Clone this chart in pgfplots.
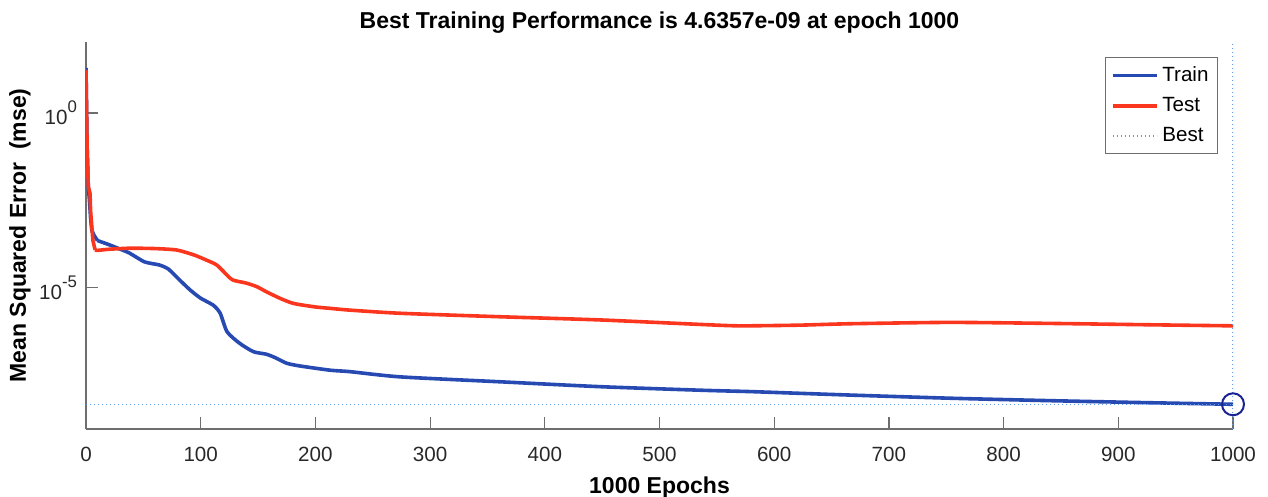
\documentclass[border=0pt]{standalone}
\usepackage{fontspec}
\setmainfont{Liberation Sans}
\usepackage{pgfplots}
\pgfplotsset{compat=1.18}
\definecolor{trainblue}{RGB}{38,74,178}
\definecolor{testred}{RGB}{250,55,30}
\definecolor{bestblue}{RGB}{95,155,235}
\definecolor{circblue}{RGB}{25,35,145}
\definecolor{axgray}{RGB}{110,110,110}
\definecolor{ticktext}{RGB}{40,40,40}
\newcommand{\pw}[1]{10\raisebox{6bp}{\fontsize{8.4bp}{9bp}\selectfont #1}}
\begin{document}
\begin{tikzpicture}
\begin{axis}[name=ax, scale only axis, width=573.5bp, height=193.5bp,
 xmin=0, xmax=1000, ymode=log, ymin=9.1e-10, ymax=107,
 axis lines*=left, axis line style={axgray, line width=0.6bp},
 tick align=inside, major tick length=6bp, tick style={axgray, line width=0.6bp},
 xtick={0,100,200,300,400,500,600,700,800,900,1000},
 xticklabels={0,100,200,300,400,500,600,700,800,900,1000},
 ytick={1e-5,1}, yticklabels={\pw{-5},\pw{0}},
 yminorticks=false, xminorticks=false,
 tick label style={font=\fontsize{10.3bp}{12bp}\selectfont, text=ticktext},
 xticklabel style={yshift=-5.5bp},
 yticklabel style={xshift=-1bp},
 title={Best Training Performance is 4.6357e-09 at epoch 1000},
 title style={font=\bfseries\fontsize{11.5bp}{13bp}\selectfont, at={(axis description cs:0.5,1)}, anchor=center, yshift=3.5bp},
 xlabel={1000 Epochs},
 xlabel style={font=\bfseries\fontsize{11.5bp}{13bp}\selectfont, at={(axis description cs:0.5,0)}, anchor=center, yshift=-29.5bp},
 ylabel={Mean Squared Error\ \ (mse)},
 ylabel style={font=\bfseries\fontsize{11.5bp}{13bp}\selectfont, at={(axis description cs:0,0.5)}, anchor=center, yshift=33bp},
 legend style={at={(axis description cs:1,1)}, anchor=north east, xshift=-7.5bp, yshift=-7.5bp,
   font=\fontsize{10.3bp}{12bp}\selectfont, draw=axgray, line width=0.5bp, fill=white,
   row sep=2.5bp, inner xsep=2.5bp, inner ysep=2.5bp},
 legend cell align=left,
 legend image code/.code={\draw[#1] (0bp,0bp) -- (22bp,0bp);},
 clip mode=individual,
]
\addplot[trainblue, line width=1.8bp, line join=round] coordinates {
(0,19.5) (1,0.1) (2,7.94e-3) (3,3.16e-3) (4,1e-3) (5,4.47e-4) (7,3.16e-4) (10,2.24e-4)};
\addlegendentry{Train}
\addplot[trainblue, line width=1.8bp, line join=round, smooth, tension=0.4, forget plot] coordinates {
(10,2.24e-4)
(21,1.66e-4) (30,1.26e-4) (38,9.77e-5) (51,5.50e-5) (64,4.47e-5) (72,3.39e-5) (82,1.62e-5)
(91,8.51e-6) (100,5.01e-6) (111,3.16e-6) (117,1.86e-6) (123,5.5e-7) (134,2.57e-7)
(146,1.48e-7) (157,1.26e-7) (165,1e-7) (175,6.92e-8) (187,5.75e-8) (213,4.37e-8)
(230,3.98e-8) (274,2.82e-8) (361,2.04e-8) (448,1.48e-8) (536,1.17e-8) (579,1.07e-8)
(622,9.55e-9) (666,8.51e-9) (753,6.92e-9) (840,5.89e-9) (928,5.13e-9) (1000,4.6357e-9)};
\addplot[testred, line width=1.8bp, line join=round] coordinates {
(0,17.0) (1,0.1) (2,7.94e-3) (3.5,5.01e-3) (4,1.58e-3) (6,2.24e-4) (8,1.2e-4)};
\addlegendentry{Test}
\addplot[testred, line width=1.8bp, line join=round, smooth, tension=0.4, forget plot] coordinates {
(8,1.2e-4) (10,1.17e-4)
(20,1.26e-4) (38,1.35e-4) (60,1.32e-4) (79,1.20e-4) (94,8.71e-5) (105,6.17e-5) (114,4.47e-5)
(123,2.29e-5) (128,1.66e-5) (140,1.35e-5) (149,1.07e-5) (157,7.76e-6) (169,5.01e-6)
(181,3.55e-6) (200,2.82e-6) (213,2.57e-6) (230,2.29e-6) (274,1.86e-6) (361,1.48e-6)
(448,1.20e-6) (536,8.91e-7) (570,8.13e-7) (622,8.51e-7) (666,9.33e-7) (753,1.02e-6)
(840,9.55e-7) (928,8.71e-7) (1000,8.13e-7)};
\addplot[bestblue, line width=0.6bp, dash pattern=on 0.6bp off 1.4bp] coordinates {(0,4.6357e-9) (1000,4.6357e-9)};
\addlegendentry{Best}
\addplot[bestblue, line width=0.6bp, dash pattern=on 0.6bp off 1.4bp, forget plot] coordinates {(1000,9.1e-10) (1000,107)};
\addplot[only marks, mark=o, mark size=5.5bp, mark options={draw=circblue, line width=1bp}, forget plot] coordinates {(1000,4.6357e-9)};
\end{axis}
\pgfresetboundingbox
\path ([shift={(-43bp,-34bp)}]ax.south west) rectangle ([shift={(17.5bp,21bp)}]ax.north east);
\end{tikzpicture}
\end{document}
